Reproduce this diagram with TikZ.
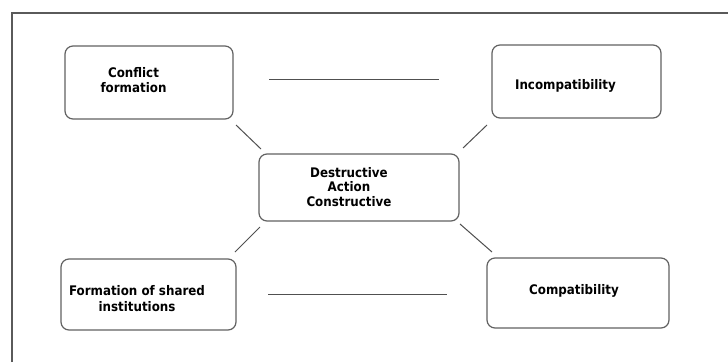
\documentclass[tikz,border=0pt]{standalone}
\usepackage{fontspec}
\setmainfont{DejaVu Sans Condensed}
\definecolor{framegray}{HTML}{5A5A5A}
\definecolor{boxgray}{HTML}{626262}
\definecolor{linegray}{HTML}{505050}
\begin{document}
\begin{tikzpicture}[x=1pt,y=-1pt,
  box/.style={draw=boxgray,line width=1.2pt,rounded corners=8pt,outer sep=0pt,inner sep=0pt},
  lbl/.style={font=\bfseries\fontsize{13.2}{15}\selectfont,inner sep=0pt,align=center,text=black},
  conn/.style={draw=linegray,line width=1pt}]
\useasboundingbox (0,0) rectangle (728,362);
\fill[white] (0,0) rectangle (728,362);
% frame (top and left edges only)
\draw[framegray,line width=1.4pt] (12,362) -- (12,13) -- (728,13);
% boxes
\node[box,minimum width=168pt,minimum height=73pt] (cf) at (149,82.5) {};
\node[box,minimum width=169pt,minimum height=73pt] (inc) at (576.5,81.5) {};
\node[box,minimum width=200pt,minimum height=67pt] (cen) at (359,187.5) {};
\node[box,minimum width=175pt,minimum height=71pt] (fs) at (148.5,294.5) {};
\node[box,minimum width=182pt,minimum height=70pt] (comp) at (578,293) {};
% texts
\node[lbl] (tcf) at (133.5,80.5) {Conflict\\formation};
\node[lbl,anchor=base] (tinc) at (565.5,89) {Incompatibility};
\node[lbl,font=\bfseries\fontsize{13.2}{14.5}\selectfont] (tcen) at (349,187) {Destructive\\Action\\Constructive};
\node[lbl,font=\bfseries\fontsize{13.2}{16}\selectfont] (tfs) at (137,299) {Formation of shared\\institutions};
\node[lbl,anchor=base] (tcomp) at (574,294) {Compatibility};
% connectors
\draw[conn,shorten <=36pt,shorten >=53pt] ([yshift=3.5pt]cf.east) -- ([yshift=2.5pt]inc.west);
\draw[conn,shorten <=32pt,shorten >=40pt] ([yshift=0.5pt]fs.east) -- ([yshift=-1pt]comp.west);
\draw[conn] ([xshift=3pt,yshift=-6pt]cf.south east) -- ([xshift=2pt,yshift=5pt]cen.north west);
\draw[conn] ([xshift=-5pt,yshift=-7pt]inc.south west) -- ([xshift=4pt,yshift=6pt]cen.north east);
\draw[conn] ([xshift=1pt,yshift=-6pt]cen.south west) -- ([xshift=-1pt,yshift=7pt]fs.north east);
\draw[conn] ([xshift=1pt,yshift=-3pt]cen.south east) -- ([xshift=5pt,yshift=6pt]comp.north west);
\end{tikzpicture}
\end{document}
